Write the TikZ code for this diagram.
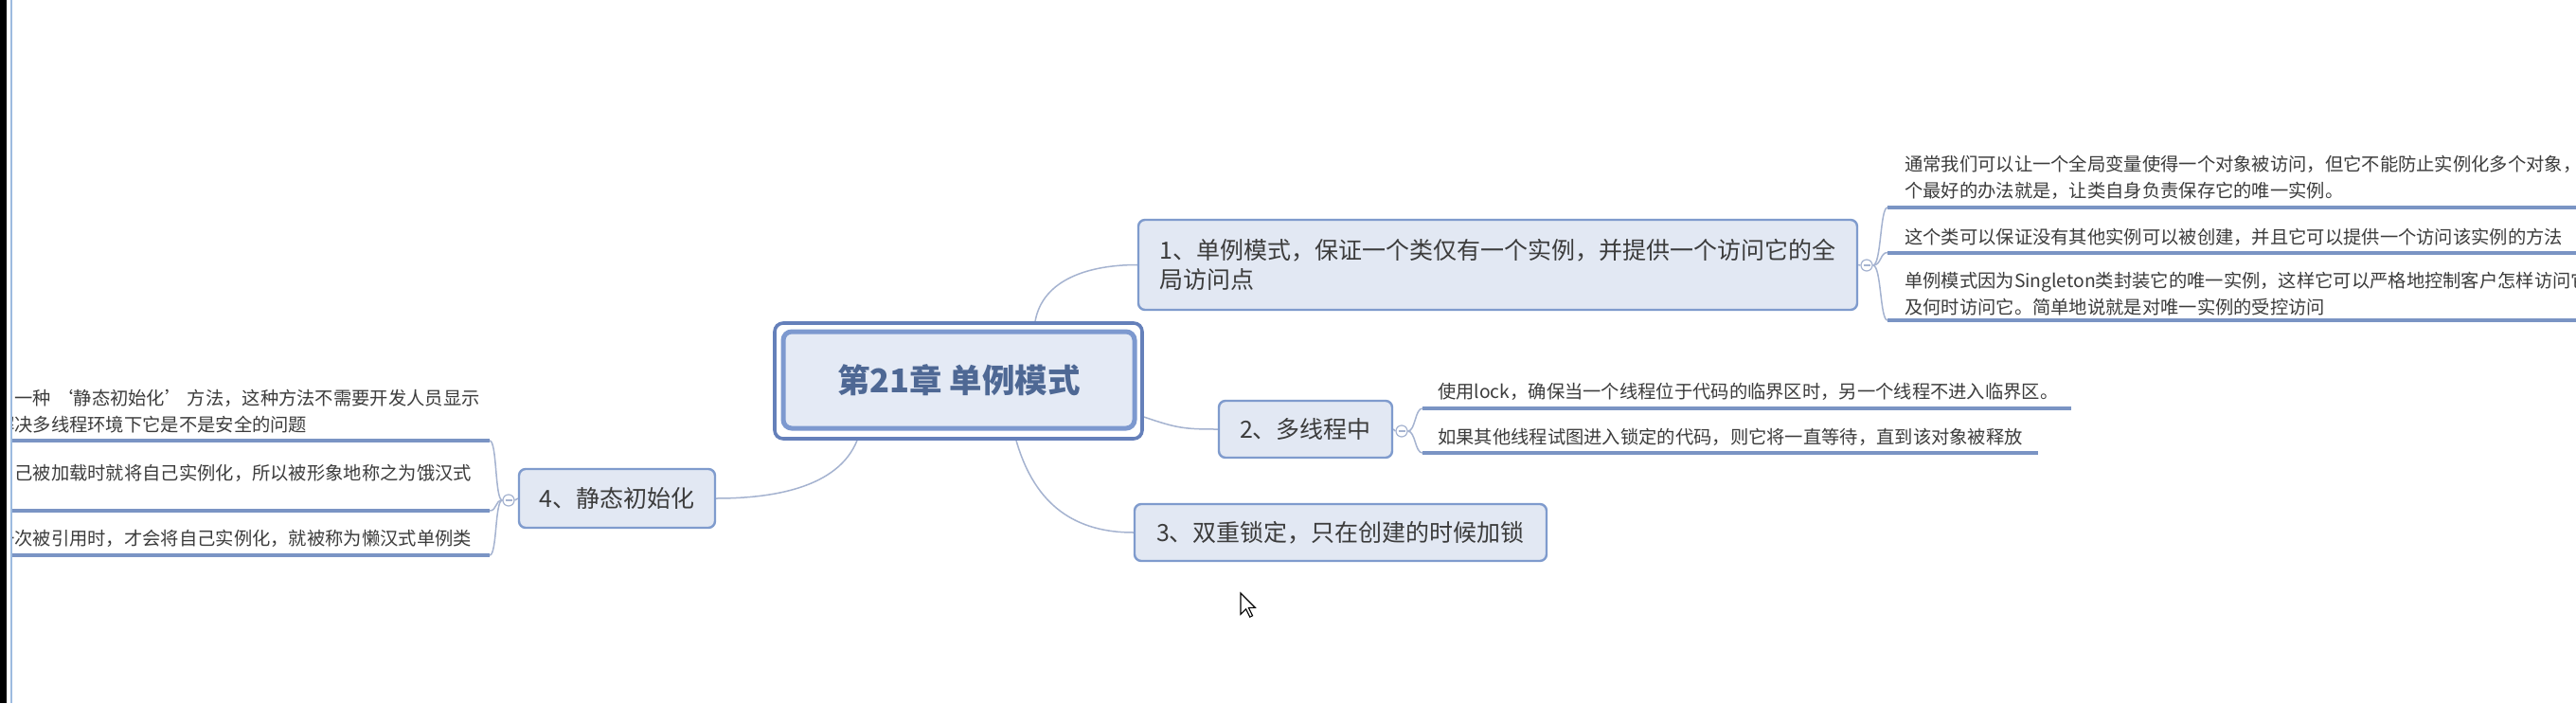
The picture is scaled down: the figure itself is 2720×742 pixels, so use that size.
\documentclass[tikz,border=0pt]{standalone}
\usepackage{fontspec}
\setmainfont{Noto Sans CJK SC}
\usetikzlibrary{calc}
\definecolor{topicfill}{HTML}{E2E8F3}
\definecolor{topicborder}{HTML}{7F9BCD}
\definecolor{textgray}{HTML}{3C3C3C}
\definecolor{roottext}{HTML}{4E6894}
\definecolor{rootfill}{HTML}{E4EAF5}
\definecolor{rootborder}{HTML}{7D99CF}
\definecolor{rootouter}{HTML}{6580BA}
\definecolor{linkcol}{HTML}{A5B3D0}
\definecolor{ulcol}{HTML}{7A94C4}
\definecolor{edgeblue}{HTML}{9DBBE0}
\newcommand\mytopicfont{\fontsize{25}{31}\selectfont}
\newcommand\mychildfont{\fontsize{19.3}{27.5}\selectfont}
\newcommand\myrootfont{\fontsize{34.5}{40}\selectfont\bfseries}
\pgfdeclarelayer{bg}
\pgfsetlayers{bg,main}
\begin{document}
\begin{tikzpicture}[x=1pt,y=-1pt,
  topicbox/.style={draw=topicborder, line width=2.4pt, fill=topicfill, rounded corners=7pt,
    inner sep=0pt, text=textgray, font=\mytopicfont},
  rootbox/.style={draw=rootborder, line width=5pt, fill=rootfill, rounded corners=9pt,
    inner sep=0pt, text=roottext, font=\myrootfont},
  rootframe/.style={draw=rootouter, line width=3.6pt, fill=white, rounded corners=9pt, inner sep=0pt},
  childtext/.style={inner sep=0pt, text=textgray, font=\mychildfont, align=left},
  collapse/.style={circle, draw=linkcol, line width=1.2pt, fill=white, minimum size=12pt, inner sep=0pt},
  link/.style={draw=linkcol, line width=1.5pt},
  uline/.style={draw=ulcol, line width=4pt}]
\begin{pgfonlayer}{bg}
\fill[white] (0,0) rectangle (2720,742);
\end{pgfonlayer}
\useasboundingbox (0,0) rectangle (2720,742);

% root
\node[rootframe, minimum width=388pt, minimum height=122pt] (frame) at (1012,402) {};
\node[rootbox, minimum width=371pt, minimum height=102pt] (root) at (1012.5,401) {第21章 单例模式};

% main topics
\node[topicbox, minimum width=759pt, minimum height=95pt, align=left] (n1) at (1581.5,279.5)
  {1、单例模式，保证一个类仅有一个实例，并提供一个访问它的全\\局访问点};
\node[topicbox, minimum width=183pt, minimum height=60pt] (n2) at (1378.5,453) {2、多线程中};
\node[topicbox, minimum width=435pt, minimum height=60pt] (n3) at (1415.5,562) {3、双重锁定，只在创建的时候加锁};
\node[topicbox, minimum width=207pt, minimum height=62pt] (n4) at (651.5,526) {4、静态初始化};

% collapse markers
\node[collapse] (k1) at (1971,280) {};
\node[collapse] (k2) at (1480,455) {};
\node[collapse] (k4) at (537,528) {};
\foreach \k in {k1,k2,k4}{\draw[linkcol, line width=1.1pt] ([xshift=-3.5pt]\k.center) -- ([xshift=3.5pt]\k.center);}

% connectors
\begin{pgfonlayer}{bg}
\draw[link] ([xshift=81pt]frame.north) .. controls +(8,-45) and +(-50,0) .. (n1.west);
\draw[link] ([yshift=-38pt]frame.east) .. controls +(35,12) and +(-35,0) .. (n2.west);
\draw[link] ([xshift=61pt]frame.south) .. controls +(20,70) and +(-60,0) .. (n3.west);
\draw[link] ([xshift=-107pt]frame.south) .. controls +(-20,50) and +(60,0) .. (n4.east);
\draw[link] (n1.east) -- (k1.west);
\draw[link] (n2.east) -- (k2.west);
\draw[link] (n4.west) -- (k4.east);
\end{pgfonlayer}

% children of topic 1
\node[childtext, anchor=west] (c1a) at (2011,187.5)
  {通常我们可以让一个全局变量使得一个对象被访问，但它不能防止实例化多个对象，\\个最好的办法就是，让类自身负责保存它的唯一实例。};
\node[childtext, anchor=west] (c1b) at (2011,250)
  {这个类可以保证没有其他实例可以被创建，并且它可以提供一个访问该实例的方法};
\node[childtext, anchor=west] (c1c) at (2011,310)
  {单例模式因为Singleton类封装它的唯一实例，这样它可以严格地控制客户怎样访问它\\及何时访问它。简单地说就是对唯一实例的受控访问};
\coordinate (u1aS) at (1993,219);   \coordinate (u1aE) at (2725,219);
\coordinate (u1bS) at (1993,266.5); \coordinate (u1bE) at (2725,266.5);
\coordinate (u1cS) at (1993,338);   \coordinate (u1cE) at (2725,338);
\foreach \u in {u1a,u1b,u1c}{
  \draw[uline] (\u S) -- (\u E);
  \draw[link] (k1.east) .. controls +(9,0) and +(-8,0) .. (\u S);}

% children of topic 2
\node[childtext, anchor=west] (c2a) at (1518,413)
  {使用lock，确保当一个线程位于代码的临界区时，另一个线程不进入临界区。};
\node[childtext, anchor=west] (c2b) at (1518,461)
  {如果其他线程试图进入锁定的代码，则它将一直等待，直到该对象被释放};
\coordinate (u2aS) at (1502,431); \coordinate (u2aE) at (2187,431);
\coordinate (u2bS) at (1502,478); \coordinate (u2bE) at (2152,478);
\foreach \u in {u2a,u2b}{
  \draw[uline] (\u S) -- (\u E);
  \draw[link] (k2.east) .. controls +(8,0) and +(-8,0) .. (\u S);}

% children of topic 4 (cut at the left window edge)
\begin{scope}
\clip (13,0) rectangle (2720,742);
\node[childtext, anchor=west] (c4a) at (-4,434)
  {了一种 ‘静态初始化’ 方法，这种方法不需要开发人员显示\\解决多线程环境下它是不是安全的问题};
\node[childtext, anchor=west] (c4b) at (-4,499)
  {自己被加载时就将自己实例化，所以被形象地称之为饿汉式};
\node[childtext, anchor=west] (c4c) at (-4,568)
  {一次被引用时，才会将自己实例化，就被称为懒汉式单例类};
\coordinate (u4aS) at (517,465); \coordinate (u4aE) at (-5,465);
\coordinate (u4bS) at (517,539); \coordinate (u4bE) at (-5,539);
\coordinate (u4cS) at (517,586); \coordinate (u4cE) at (-5,586);
\foreach \u in {u4a,u4b,u4c}{
  \draw[uline] (\u S) -- (\u E);
  \draw[link] (k4.west) .. controls +(-8,0) and +(8,0) .. (\u S);}
\end{scope}

% window edge
\fill[black] (0,0) rectangle (7,742);
\draw[edgeblue, line width=2pt] (12,0) -- (12,742);

% mouse pointer
\draw[fill=white, line width=1.1pt, line join=miter] (1310,626) -- (1310,648.4) -- (1315.6,642.8)
  -- (1319.8,651.2) -- (1322.6,649.8) -- (1318.4,641.4) -- (1325.4,641.4) -- cycle;
\end{tikzpicture}
\end{document}
